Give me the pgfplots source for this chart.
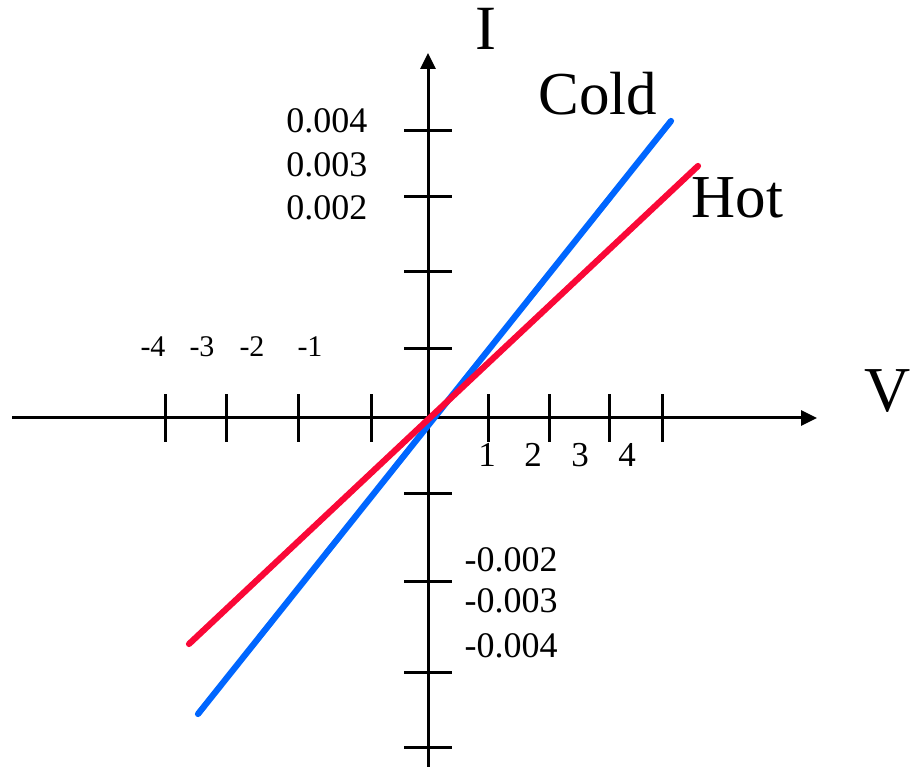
\documentclass[border=0pt]{standalone}
\usepackage{fontspec}
\setmainfont{Liberation Serif}
\usepackage{pgfplots}
\pgfplotsset{compat=1.18}
\usetikzlibrary{arrows.meta}

\definecolor{coldblue}{RGB}{0,102,255}
\definecolor{hotred}{RGB}{250,8,55}

\newcommand{\fs}[1]{\fontsize{#1bp}{#1bp}\selectfont}

\begin{document}
\begin{tikzpicture}
\begin{axis}[
  x=1bp, y=1bp,
  xmin=-416, xmax=389,
  ymin=-349, ymax=365,
  axis lines=middle,
  axis line style={line width=3bp, black, -{Triangle[length=16bp,width=15bp]}},
  clip=false,
  xtick={-263,-202,-130,-57,60,121,181,234},
  ytick={287,221,146,69,-76,-164,-255,-330},
  xticklabels={}, yticklabels={},
  xticklabel style={opacity=0}, yticklabel style={opacity=0},
  tick align=center,
  major tick length=48bp,
  tick style={line width=3bp, black},
  major tick style={line width=3bp, black},
  every node/.append style={inner sep=0pt, outer sep=0pt},
]
% current-voltage characteristics
\addplot[coldblue, line width=6.2bp, line cap=round] coordinates {(-230,-296) (243,297)};
\addplot[hotred, line width=6.2bp, line cap=round] coordinates {(-239,-226) (270,252)};

% axis names and curve names
\node[anchor=base] at (axis cs:58,368) {\fs{63}I};
\node[anchor=base] at (axis cs:460,6) {\fs{64}V};
\node[anchor=base west] at (axis cs:107,303) {\fs{61}Cold};
\node[anchor=base west] at (axis cs:260,200) {\fs{61}Hot};

% current labels
\node[anchor=base east] at (axis cs:-57,285) {\fs{36}0.004};
\node[anchor=base east] at (axis cs:-57,241) {\fs{36}0.003};
\node[anchor=base east] at (axis cs:-57,198) {\fs{36}0.002};
\node[anchor=base west] at (axis cs:33,-154) {\fs{36}-0.002};
\node[anchor=base west] at (axis cs:33,-195) {\fs{36}-0.003};
\node[anchor=base west] at (axis cs:33,-240) {\fs{36}-0.004};

% voltage labels
\node[anchor=base] at (axis cs:-275,61) {\fs{30}-4};
\node[anchor=base] at (axis cs:-226,61) {\fs{30}-3};
\node[anchor=base] at (axis cs:-176,61) {\fs{30}-2};
\node[anchor=base] at (axis cs:-118,61) {\fs{30}-1};
\node[anchor=base] at (axis cs:59,-49) {\fs{35}1};
\node[anchor=base] at (axis cs:105,-49) {\fs{35}2};
\node[anchor=base] at (axis cs:152,-49) {\fs{35}3};
\node[anchor=base] at (axis cs:199,-49) {\fs{35}4};

\coordinate (bbSW) at (axis cs:-428,-349);
\coordinate (bbNE) at (axis cs:482,418);
\end{axis}
\pgfresetboundingbox
\path[use as bounding box] (bbSW) rectangle (bbNE);
\end{tikzpicture}
\end{document}
